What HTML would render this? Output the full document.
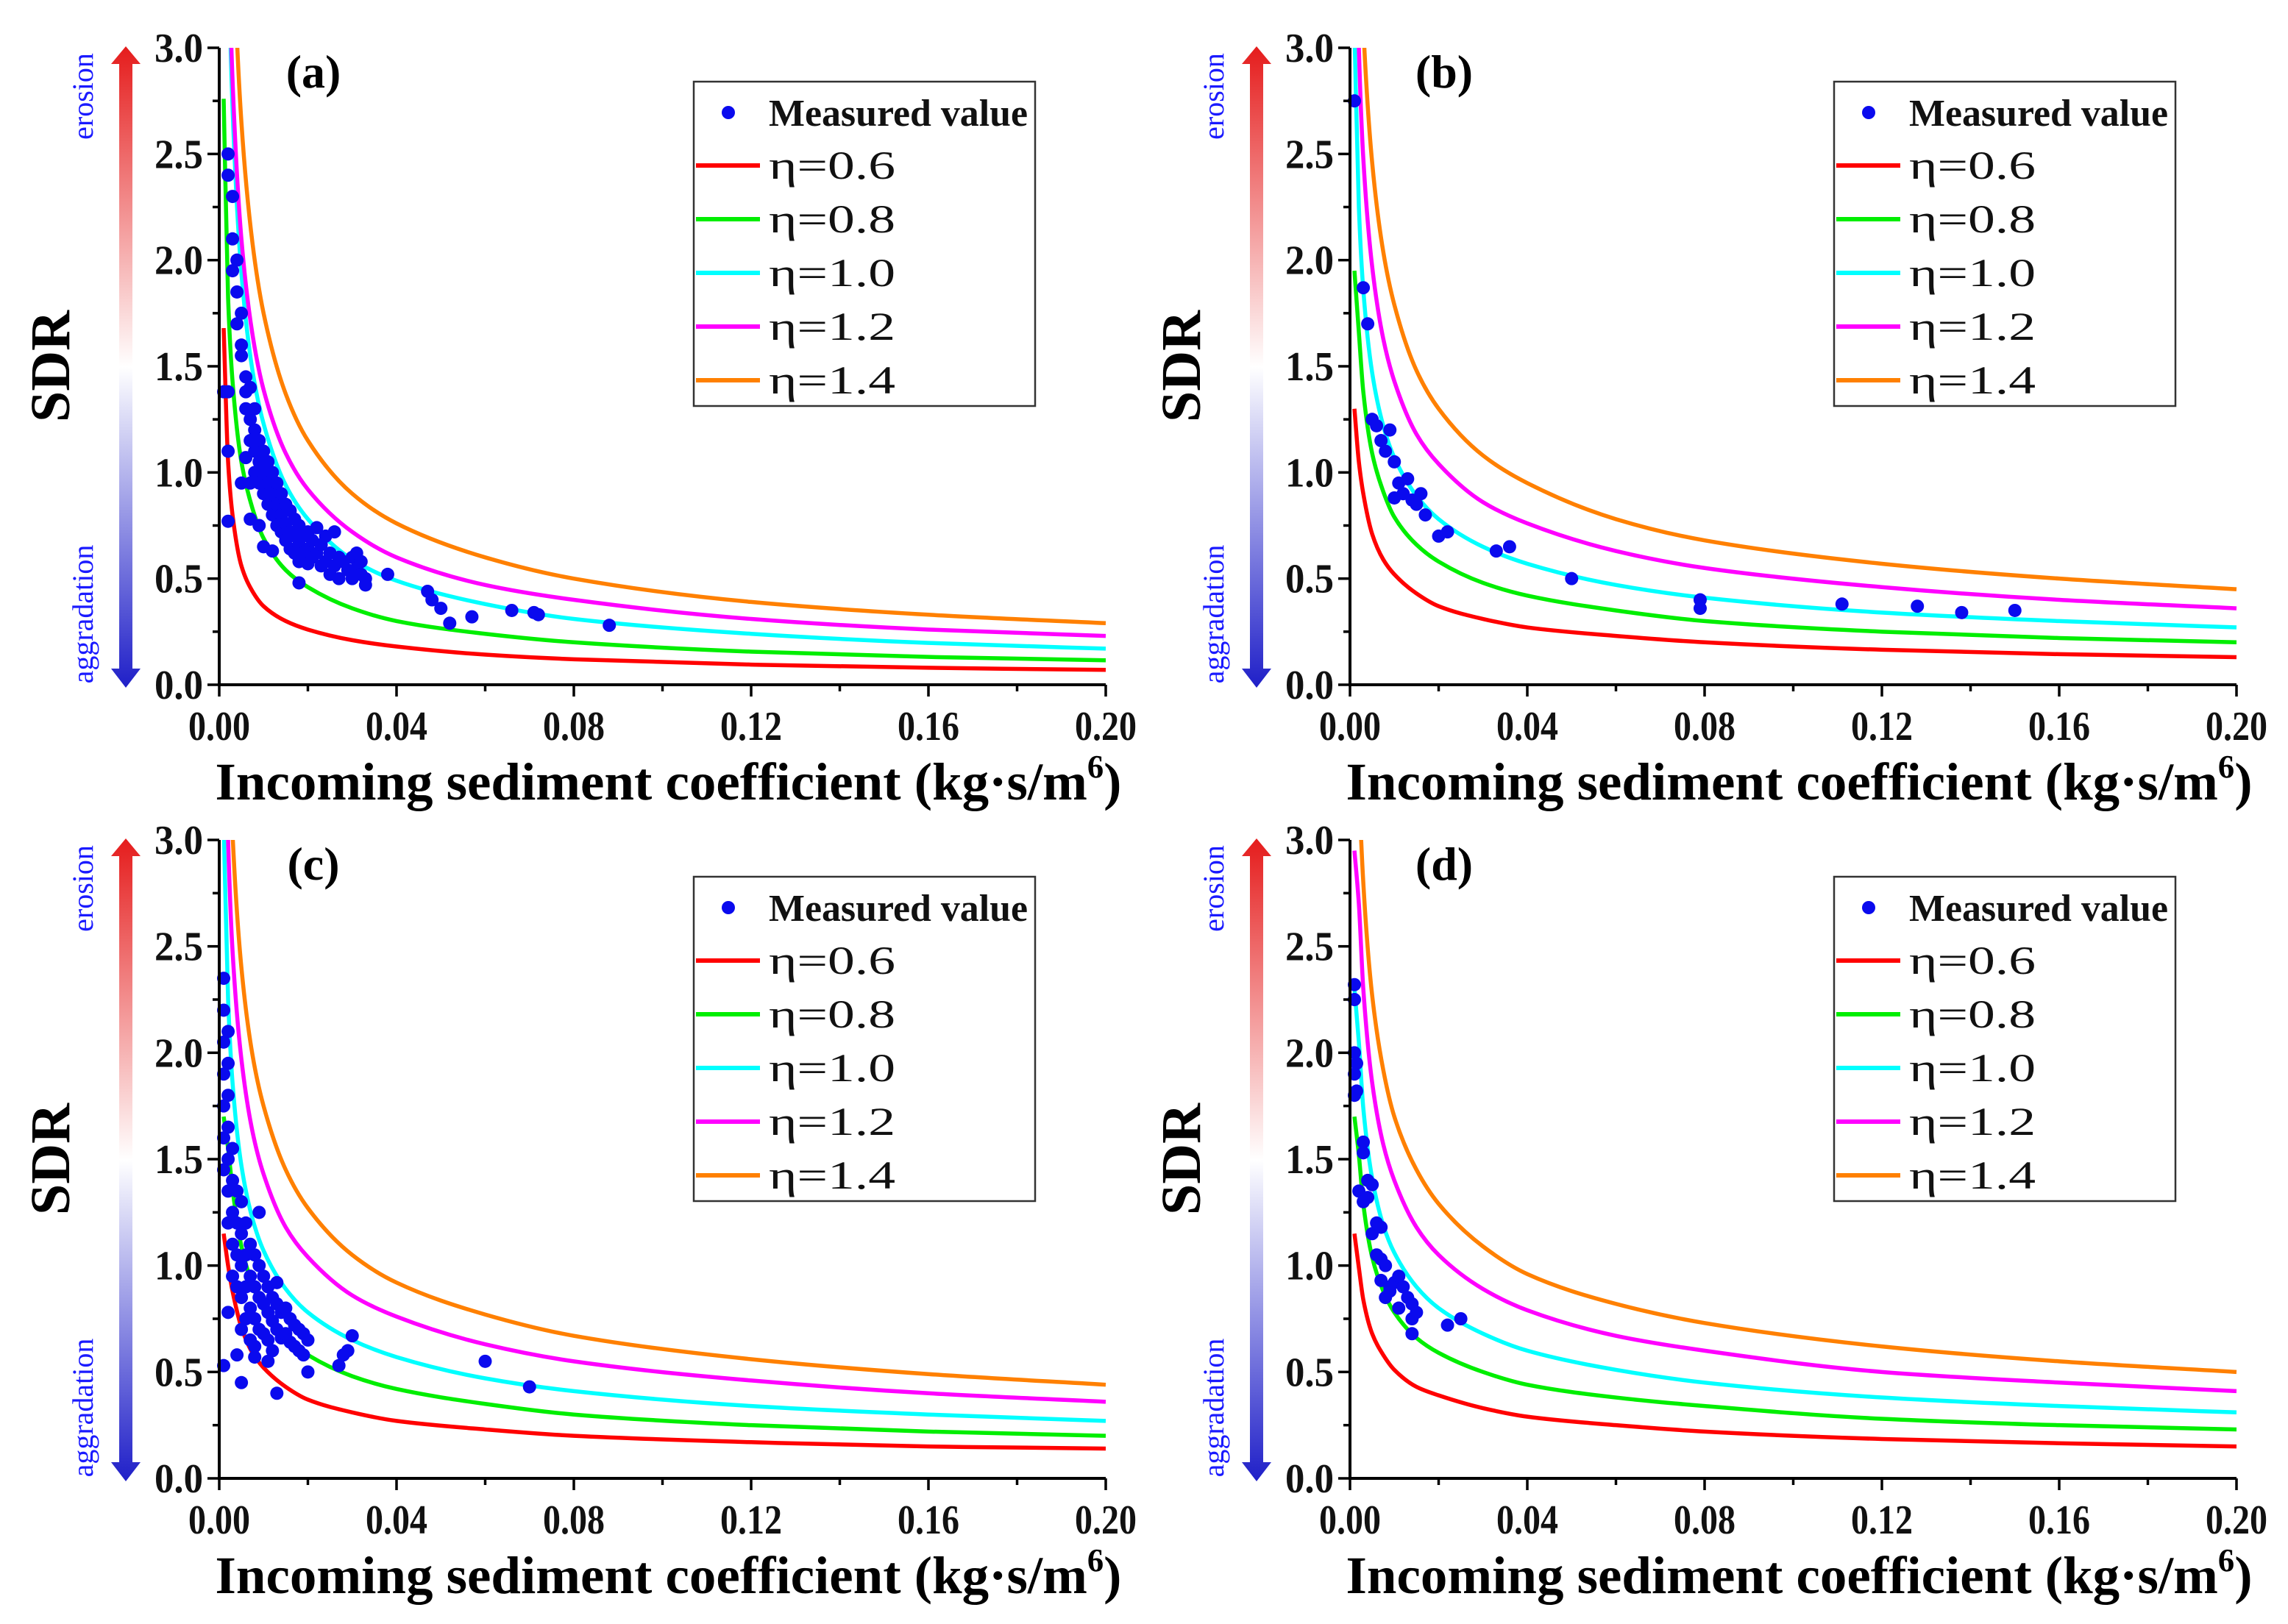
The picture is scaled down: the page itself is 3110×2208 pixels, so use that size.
<!DOCTYPE html>
<html><head><meta charset="utf-8"><style>
html,body{margin:0;padding:0;background:#fff;}
svg{display:block;font-family:"Liberation Serif",serif;font-weight:bold;}
</style></head><body>
<svg id="fig" width="3110" height="2208" viewBox="0 0 3110 2208" xmlns="http://www.w3.org/2000/svg">
<defs>
<linearGradient id="arrGrad" x1="0" y1="0" x2="0" y2="1">
<stop offset="0" stop-color="#e51c1c"/><stop offset="0.5" stop-color="#ffffff"/><stop offset="1" stop-color="#1f1fc8"/>
</linearGradient>
</defs>
</svg>
<script>
// ---------- data ----------
const xSamples = [0.001,0.002,0.003,0.005,0.0075,0.01,0.015,0.02,0.03,0.04,0.06,0.08,0.12,0.16,0.2];
const etaLabels = ["η=0.6","η=0.8","η=1.0","η=1.2","η=1.4"];
const xTicks = [0,0.04,0.08,0.12,0.16,0.20];
const xTickLabels = ["0.00","0.04","0.08","0.12","0.16","0.20"];
const yTicks = [0,0.5,1.0,1.5,2.0,2.5,3.0];
const yTickLabels = ["0.0","0.5","1.0","1.5","2.0","2.5","3.0"];
const panelLabels = ["(a)","(b)","(c)","(d)"];

// panel a curves
const aRed = [1.68,1.05,0.8,0.56,0.44,0.37,0.3,0.26,0.21,0.18,0.142,0.12,0.095,0.08,0.07];
const aGreen = [2.76,1.82,1.43,1.05,0.83,0.69,0.54,0.46,0.36,0.30,0.24,0.2,0.156,0.131,0.115];
const aCyan = [5.6,3.55,2.72,1.94,1.48,1.23,0.94,0.78,0.59,0.49,0.38,0.31,0.24,0.197,0.17];
const aMagenta = [5.5,3.63,2.85,2.1,1.65,1.39,1.09,0.92,0.72,0.6,0.47,0.4,0.31,0.26,0.23];
const aOrange = [6.96,4.58,3.6,2.65,2.08,1.75,1.37,1.15,0.9,0.76,0.6,0.5,0.39,0.33,0.29];
// panel b curves
const bRed = [1.3,1.05,0.9,0.71,0.59,0.52,0.43,0.37,0.31,0.27,0.23,0.2,0.165,0.144,0.13];
const bGreen = [1.95,1.66,1.38,1.09,0.91,0.79,0.66,0.58,0.48,0.42,0.35,0.3,0.25,0.22,0.2];
const bCyan = [3.08,2.25,1.86,1.47,1.22,1.07,0.89,0.78,0.65,0.57,0.47,0.41,0.34,0.3,0.27];
const bMagenta = [4.1,3.0,2.48,1.97,1.63,1.43,1.18,1.04,0.86,0.76,0.63,0.55,0.46,0.4,0.36];
const bOrange = [5.1,3.74,3.1,2.46,2.04,1.79,1.48,1.3,1.08,0.95,0.78,0.68,0.57,0.5,0.45];
// panel c curves
const cRed = [1.15,1.0,0.88,0.71,0.59,0.52,0.43,0.37,0.31,0.27,0.23,0.2,0.17,0.15,0.14];
const cGreen = [1.7,1.55,1.36,1.09,0.91,0.79,0.66,0.58,0.48,0.42,0.35,0.3,0.25,0.22,0.2];
const cCyan = [3.08,2.25,1.86,1.47,1.22,1.07,0.89,0.78,0.65,0.57,0.47,0.41,0.34,0.3,0.27];
const cMagenta = [4.1,3.0,2.48,1.97,1.63,1.43,1.18,1.04,0.86,0.76,0.63,0.55,0.46,0.4,0.36];
const cOrange = [5.0,3.66,3.03,2.4,1.99,1.75,1.45,1.27,1.05,0.92,0.77,0.67,0.56,0.49,0.44];
// panel d curves
const dRed = [1.15,0.99,0.84,0.68,0.58,0.51,0.43,0.39,0.33,0.29,0.25,0.22,0.185,0.165,0.15];
const dGreen = [1.7,1.52,1.29,1.04,0.88,0.78,0.66,0.59,0.5,0.44,0.38,0.34,0.28,0.25,0.23];
const dCyan = [2.3,2.05,1.74,1.41,1.19,1.06,0.9,0.8,0.68,0.6,0.51,0.45,0.38,0.34,0.31];
const dMagenta = [2.95,2.7,2.3,1.86,1.57,1.4,1.18,1.05,0.89,0.79,0.67,0.6,0.5,0.45,0.41];
const dOrange = [4.39,3.3,2.8,2.27,1.92,1.7,1.45,1.29,1.09,0.96,0.82,0.73,0.62,0.55,0.5];

// measured points
const aPtsX = [0.003,0.003,0.004,0.004,0.004,0.005,0.005,0.005,0.006,0.006,0.006,0.007,0.007,0.007,0.008,0.008,0.008,0.008,0.009,0.009,0.009,0.01,0.01,0.01,0.011,0.011,0.011,0.012,0.012,0.012,0.013,0.013,0.013,0.014,0.014,0.014,0.015,0.015,0.015,0.016,0.016,0.016,0.017,0.017,0.017,0.018,0.018,0.018,0.019,0.019,0.02,0.02,0.02,0.021,0.021,0.022,0.022,0.023,0.023,0.024,0.024,0.025,0.025,0.026,0.026,0.027,0.027,0.028,0.029,0.03,0.03,0.031,0.031,0.032,0.032,0.033,0.033,0.005,0.006,0.007,0.009,0.01,0.007,0.002,0.002,0.001,0.002,0.012,0.018,0.038,0.047,0.048,0.05,0.052,0.057,0.066,0.071,0.072,0.088,0.002,0.002,0.003];
const aPtsY = [2.1,1.95,2.0,1.85,1.7,1.75,1.6,1.55,1.45,1.38,1.3,1.4,1.25,1.15,1.3,1.2,1.1,1.0,1.15,1.05,0.95,1.1,1.0,0.9,1.05,0.95,0.85,1.0,0.9,0.8,0.95,0.85,0.75,0.9,0.8,0.72,0.85,0.76,0.68,0.82,0.72,0.64,0.78,0.7,0.62,0.75,0.66,0.58,0.7,0.62,0.72,0.64,0.57,0.68,0.6,0.74,0.62,0.66,0.56,0.7,0.58,0.62,0.52,0.72,0.56,0.6,0.5,0.58,0.54,0.6,0.5,0.62,0.55,0.58,0.52,0.5,0.47,0.95,1.07,0.95,0.75,0.65,0.78,1.1,0.77,1.38,1.38,0.63,0.48,0.52,0.44,0.4,0.36,0.29,0.32,0.35,0.34,0.33,0.28,2.5,2.4,2.3];
const bPtsX = [0.001,0.003,0.004,0.005,0.006,0.007,0.008,0.009,0.01,0.01,0.011,0.012,0.013,0.014,0.015,0.016,0.017,0.02,0.022,0.033,0.036,0.05,0.079,0.079,0.111,0.128,0.138,0.15];
const bPtsY = [2.75,1.87,1.7,1.25,1.22,1.15,1.1,1.2,1.05,0.88,0.95,0.9,0.97,0.87,0.85,0.9,0.8,0.7,0.72,0.63,0.65,0.5,0.4,0.36,0.38,0.37,0.34,0.35];
const cPtsX = [0.001,0.001,0.001,0.001,0.001,0.001,0.001,0.002,0.002,0.002,0.002,0.002,0.002,0.002,0.003,0.003,0.003,0.003,0.003,0.004,0.004,0.004,0.004,0.005,0.005,0.005,0.005,0.005,0.006,0.006,0.006,0.006,0.007,0.007,0.007,0.007,0.008,0.008,0.008,0.008,0.009,0.009,0.009,0.01,0.01,0.01,0.011,0.011,0.011,0.012,0.012,0.012,0.013,0.013,0.014,0.014,0.015,0.015,0.016,0.016,0.017,0.017,0.018,0.018,0.019,0.02,0.013,0.009,0.001,0.002,0.004,0.005,0.008,0.013,0.02,0.019,0.027,0.028,0.029,0.03,0.06,0.07,0.011];
const cPtsY = [2.35,2.2,2.05,1.9,1.75,1.6,1.45,2.1,1.95,1.8,1.65,1.5,1.35,1.2,1.55,1.4,1.25,1.1,0.95,1.35,1.2,1.05,0.9,1.3,1.15,1.0,0.85,0.7,1.2,1.05,0.9,0.75,1.1,0.95,0.8,0.65,1.05,0.9,0.75,0.62,1.0,0.85,0.7,0.95,0.82,0.68,0.9,0.78,0.65,0.85,0.74,0.6,0.82,0.7,0.78,0.66,0.8,0.68,0.75,0.64,0.72,0.62,0.7,0.6,0.68,0.65,0.92,1.25,0.53,0.78,0.58,0.45,0.57,0.4,0.5,0.58,0.53,0.58,0.6,0.67,0.55,0.43,0.55];
const dPtsX = [0.001,0.001,0.001,0.0015,0.001,0.001,0.0015,0.003,0.003,0.002,0.003,0.004,0.005,0.004,0.005,0.006,0.007,0.006,0.007,0.008,0.007,0.009,0.01,0.011,0.012,0.011,0.013,0.014,0.015,0.014,0.014,0.022,0.025,0.009,0.008];
const dPtsY = [2.32,2.25,2.0,1.95,1.9,1.8,1.82,1.58,1.53,1.35,1.3,1.4,1.38,1.32,1.15,1.2,1.18,1.05,1.03,1.0,0.93,0.88,0.92,0.95,0.9,0.8,0.85,0.82,0.78,0.75,0.68,0.72,0.75,0.9,0.85];

const panels = [
  {id:"a", left:298, right:1503, top:65, bottom:931, legX:943, legY:111, curves:[aRed,aGreen,aCyan,aMagenta,aOrange], px:aPtsX, py:aPtsY},
  {id:"b", left:1835, right:3040, top:65, bottom:931, legX:2493, legY:111, curves:[bRed,bGreen,bCyan,bMagenta,bOrange], px:bPtsX, py:bPtsY},
  {id:"c", left:298, right:1503, top:1142, bottom:2010, legX:943, legY:1192, curves:[cRed,cGreen,cCyan,cMagenta,cOrange], px:cPtsX, py:cPtsY},
  {id:"d", left:1835, right:3040, top:1142, bottom:2010, legX:2493, legY:1192, curves:[dRed,dGreen,dCyan,dMagenta,dOrange], px:dPtsX, py:dPtsY}
];
const colors = ["#ff0000","#00ee00","#00ffff","#ff00ff","#ff8000"];

// ---------- drawing ----------
const NS = "http://www.w3.org/2000/svg";
const svg = document.getElementById("fig");
function mk(tag, attrs, parent){
  const e = document.createElementNS(NS, tag);
  for (const k in attrs) e.setAttribute(k, attrs[k]);
  (parent||svg).appendChild(e);
  return e;
}
function monoPath(pts){
  const n = pts.length; if(n<2) return "";
  const dx=[],m=[],t=[];
  for(let i=0;i<n-1;i++){dx[i]=pts[i+1][0]-pts[i][0]; m[i]=(pts[i+1][1]-pts[i][1])/dx[i];}
  t[0]=m[0]; t[n-1]=m[n-2];
  for(let i=1;i<n-1;i++){ t[i]=(m[i-1]*m[i]<=0)?0:(3*(dx[i-1]+dx[i]))/((2*dx[i]+dx[i-1])/m[i-1]+(dx[i]+2*dx[i-1])/m[i]); }
  let d="M"+pts[0][0].toFixed(2)+","+pts[0][1].toFixed(2);
  for(let i=0;i<n-1;i++){
    const h=dx[i];
    d+=" C"+(pts[i][0]+h/3).toFixed(2)+","+(pts[i][1]+t[i]*h/3).toFixed(2)+" "+(pts[i+1][0]-h/3).toFixed(2)+","+(pts[i+1][1]-t[i+1]*h/3).toFixed(2)+" "+pts[i+1][0].toFixed(2)+","+pts[i+1][1].toFixed(2);
  }
  return d;
}

panels.forEach((P, pi) => {
  const g = mk("g", {});
  
  
  const X = v => P.left + v/0.2*(P.right-P.left);
  const Y = v => P.bottom - v/3.0*(P.bottom-P.top);

  const clipId = "clip"+P.id;
  const cp = mk("clipPath",{id:clipId}, g);
  mk("rect",{x:P.left, y:P.top, width:P.right-P.left+10, height:P.bottom-P.top}, cp);

  // curves
  P.curves.forEach((vals, ci) => {
    const pts = xSamples.map((x,i)=>[X(x), Y(vals[i])]);
    const path = mk("path",{d:monoPath(pts), fill:"none", stroke:colors[ci], "stroke-width":5.5, "clip-path":"url(#"+clipId+")"}, g);
    
    
  });

  // points
  const pg = mk("g",{}, g);
  
  
  P.px.forEach((x,i) => {
    const c = mk("circle",{cx:X(x), cy:Y(P.py[i]), r:9, fill:"#0a0aee"}, pg);
    
    
  });

  // axes
  const ax = mk("line",{x1:P.left,y1:P.top,x2:P.left,y2:P.bottom,stroke:"#000","stroke-width":4}, g);
  
  
  const axx = mk("line",{x1:P.left-2,y1:P.bottom,x2:P.right,y2:P.bottom,stroke:"#000","stroke-width":4}, g);
  
  

  // y ticks
  for (let k=0;k<=12;k++){
    const v = k*0.25, major = k%2===0;
    mk("line",{x1:P.left-(major?16:9),y1:Y(v),x2:P.left,y2:Y(v),stroke:"#000","stroke-width":3.5}, g);
  }
  yTicks.forEach((v,i)=>{
    const t = mk("text",{x:P.left-22,y:Y(v)+19,"text-anchor":"end","font-size":56,fill:"#111",textLength:66,lengthAdjust:"spacingAndGlyphs"}, g);
    t.textContent = yTickLabels[i];
    
    
  });
  // x ticks
  for (let k=0;k<=10;k++){
    const v = k*0.02, major = k%2===0;
    mk("line",{x1:X(v),y1:P.bottom,x2:X(v),y2:P.bottom+(major?16:9),stroke:"#000","stroke-width":3.5}, g);
  }
  xTicks.forEach((v,i)=>{
    const t = mk("text",{x:X(v),y:P.bottom+75,"text-anchor":"middle","font-size":56,fill:"#111",textLength:84,lengthAdjust:"spacingAndGlyphs"}, g);
    t.textContent = xTickLabels[i];
    
    
  });

  // x axis title
  const xt = mk("text",{x:(P.left+P.right)/2+8,y:P.bottom+156,"text-anchor":"middle","font-size":72,fill:"#000",textLength:1232,lengthAdjust:"spacingAndGlyphs"}, g);
  
  
  xt.appendChild(document.createTextNode("Incoming sediment coefficient (kg·s/m"));
  const sup = mk("tspan",{dy:-30,"font-size":44}, xt); sup.textContent="6";
  const cl = mk("tspan",{dy:30}, xt); cl.textContent=")";

  // y axis title
  const cy = (P.top+P.bottom)/2;
  const yt = mk("text",{x:0,y:0,"text-anchor":"middle","font-size":76,fill:"#000",transform:"translate("+(P.left-204)+","+cy+") rotate(-90)"}, g);
  yt.textContent = "SDR";
  
  

  // gradient arrow
  const axX = P.left-127;
  const arr = mk("path",{d:"M"+axX+","+(P.top-2)+" L"+(axX+20)+","+(P.top+22)+" L"+(axX+9)+","+(P.top+22)+" L"+(axX+9)+","+(P.bottom-22)+" L"+(axX+20)+","+(P.bottom-22)+" L"+axX+","+(P.bottom+4)+" L"+(axX-20)+","+(P.bottom-22)+" L"+(axX-9)+","+(P.bottom-22)+" L"+(axX-9)+","+(P.top+22)+" L"+(axX-20)+","+(P.top+22)+" Z",fill:"url(#arrGrad)"}, g);
  
  
  const er = mk("text",{x:0,y:0,"text-anchor":"middle","font-size":40,fill:"#1a1aff","font-weight":"normal",transform:"translate("+(P.left-172)+","+(P.top+66)+") rotate(-90)"}, g);
  er.textContent = "erosion";
  
  
  const ag = mk("text",{x:0,y:0,"text-anchor":"middle","font-size":40,fill:"#1a1aff","font-weight":"normal",transform:"translate("+(P.left-172)+","+(P.bottom-96)+") rotate(-90)"}, g);
  ag.textContent = "aggradation";
  
  

  // panel label
  const pl = mk("text",{x:P.left+128,y:P.top+54,"text-anchor":"middle","font-size":64,fill:"#000"}, g);
  pl.textContent = panelLabels[pi];
  
  

  // legend
  const lg = mk("g",{}, g);
  
  
  mk("rect",{x:P.legX,y:P.legY,width:464,height:441,fill:"#fff",stroke:"#333","stroke-width":2.5}, lg);
  const mc = mk("circle",{cx:P.legX+47,cy:P.legY+42,r:9,fill:"#0a0aee"}, lg);
  
  
  const mt = mk("text",{x:P.legX+102,y:P.legY+60,"font-size":52,fill:"#111",textLength:352,lengthAdjust:"spacingAndGlyphs"}, lg);
  mt.textContent = "Measured value";
  
  
  etaLabels.forEach((lab,i)=>{
    const yy = P.legY + 114 + i*73;
    const ln = mk("line",{x1:P.legX+3,y1:yy,x2:P.legX+90,y2:yy,stroke:colors[i],"stroke-width":6}, lg);
    
    
    const tt = mk("text",{x:P.legX+102,y:yy+18,"font-size":54,fill:"#111","font-weight":"normal",textLength:172,lengthAdjust:"spacingAndGlyphs"}, lg);
    tt.textContent = lab;
    
    
  });
});
</script>
</body></html>
